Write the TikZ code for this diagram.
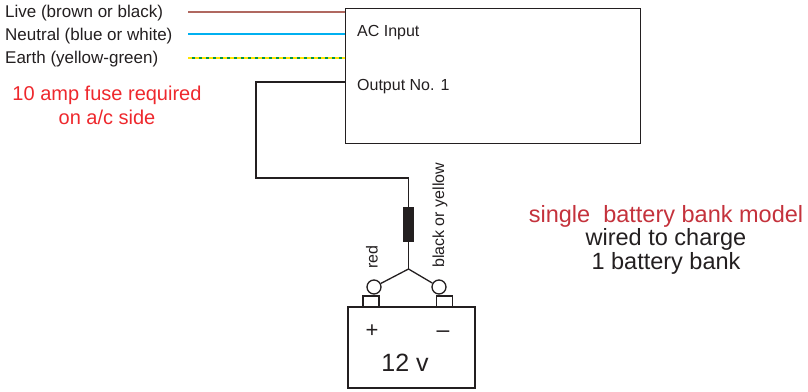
\documentclass[tikz,border=0pt]{standalone}
\usepackage{fontspec}
\setmainfont{Liberation Sans}
\usetikzlibrary{positioning}

\definecolor{livebrown}{RGB}{176,104,96}
\definecolor{neutralblue}{RGB}{0,176,240}
\definecolor{earthgreen}{RGB}{0,150,70}
\definecolor{earthyellow}{RGB}{255,228,0}
\definecolor{fusered}{RGB}{238,40,45}
\definecolor{modelred}{RGB}{196,50,60}
\definecolor{inkgray}{RGB}{35,31,32}

\begin{document}
\begin{tikzpicture}[x=1pt,y=-1pt,
  every node/.style={text=inkgray,inner sep=0pt},
  lbl/.style={font=\fontsize{16}{19}\selectfont},
  mainslbl/.style={font=\fontsize{17}{20}\selectfont,anchor=base west},
  wire/.style={draw=inkgray,line width=1.3pt},
  box/.style={draw=inkgray,line width=1.3pt}]
  \useasboundingbox (0,0) rectangle (808,391);

  % charger box
  \node[box,minimum width=295pt,minimum height=135pt,anchor=north west] (charger) at (345,8) {};
  \node[lbl,anchor=base west] (acin) at (357,36) {AC Input};
  \node[lbl,anchor=base west] (outone) at (357,90) {Output No. 1};

  % mains side
  \node[mainslbl] (live) at (5,17) {Live (brown or black)};
  \node[mainslbl] (neutral) at (5,40) {Neutral (blue or white)};
  \node[mainslbl] (earth) at (5,63) {Earth (yellow-green)};
  \coordinate (livein) at (188,12);
  \coordinate (neutralin) at (188,34);
  \coordinate (earthin) at (188,58);
  \draw[line width=1.2pt,livebrown] (livein) -- (livein -| charger.west);
  \draw[line width=1.2pt,neutralblue] (neutralin) -- (neutralin -| charger.west);
  \draw[line width=1.3pt,earthgreen] (earthin) -- (earthin -| charger.west);
  \draw[line width=1.3pt,earthyellow,dash pattern=on 4pt off 3pt] (earthin) -- (earthin -| charger.west);

  \node[align=center,text=fusered,font=\fontsize{20}{24}\selectfont] (fusenote) at (107,105)
    {10 amp fuse required\\on a/c side};

  % output to battery
  \node[fill=inkgray,minimum width=11pt,minimum height=35pt] (fuse) at (408.5,224.5) {};
  \coordinate (outwire) at (345,82);
  \draw[wire] (outwire) -| (256,178) -| (fuse.north);
  \coordinate (split) at (408.5,269);
  \draw[wire] (fuse.south) -- (split);
  \node[circle,box,minimum size=14pt] (posclip) at (374,287) {};
  \node[circle,box,minimum size=14pt] (negclip) at (439,287) {};
  \draw[wire] (split) -- (posclip);
  \draw[wire] (split) -- (negclip);
  \node[lbl,rotate=90] (redlbl) at (372,257) {red};
  \node[lbl,rotate=90,anchor=west] (blacklbl) at (440,268) {black or yellow};

  % battery
  \node[box,minimum width=16pt,minimum height=11pt] (posterm) at (371,301.5) {};
  \node[box,minimum width=16pt,minimum height=11pt] (negterm) at (444.5,301.5) {};
  \node[box,minimum width=127pt,minimum height=81pt] (battery) at (411.5,347.5) {};
  \node[font=\fontsize{22}{26}\selectfont] (plus) at (372,331) {+};
  \node[font=\fontsize{23}{26}\selectfont] (minus) at (443,334) {--};
  \node[font=\fontsize{25}{28}\selectfont] (volts) at (405,363) {12 v};

  % model note
  \node[align=center,font=\fontsize{23.5}{23.5}\selectfont] (modelnote) at (666,239.5)
    {\textcolor{modelred}{single\ \ battery bank model}\\wired to charge\\1 battery bank};
\end{tikzpicture}
\end{document}
